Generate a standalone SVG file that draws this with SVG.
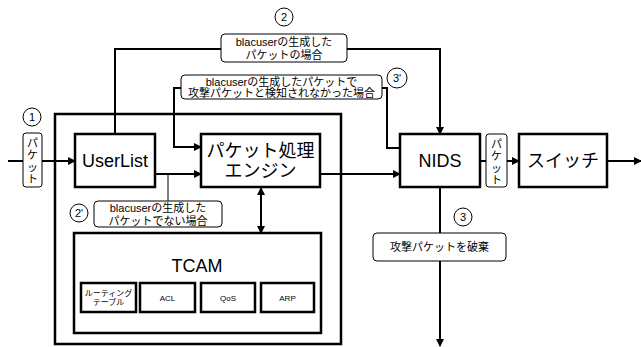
<svg xmlns="http://www.w3.org/2000/svg" width="641" height="347" viewBox="0 0 641 347">
<style>
text{font-family:"Liberation Sans","Noto Sans CJK JP",sans-serif;fill:#000}
.box{fill:#fff;stroke:#000;stroke-width:2.5}
.lbl{fill:#fff;stroke:#000;stroke-width:1}
.ln{fill:none;stroke:#000;stroke-width:2}
.thin{fill:none;stroke:#000;stroke-width:1}
.big{font-size:18px;text-anchor:middle}
.s{font-size:11px;text-anchor:middle}
.xs{font-size:8px;text-anchor:middle}
.cir{fill:#fff;stroke:#000;stroke-width:1}
</style>
<defs>
<marker id="ah" markerWidth="8" markerHeight="8" refX="7" refY="4" orient="auto" markerUnits="userSpaceOnUse">
<path d="M0,0 L8,4 L0,8 Z" fill="#000"/>
</marker>
<marker id="ahs" markerWidth="8" markerHeight="8" refX="1" refY="4" orient="auto" markerUnits="userSpaceOnUse">
<path d="M8,0 L0,4 L8,8 Z" fill="#000"/>
</marker>
</defs>
<rect x="0" y="0" width="641" height="347" fill="#fff"/>

<g id="container">
<rect class="box" x="55" y="114" width="286" height="230"/>
</g>

<g id="connectors">
<path class="ln" d="M8,161 H23"/>
<path class="ln" d="M42,161 H75" marker-end="url(#ah)"/>
<path class="ln" d="M115,134 V49 H440 V134" marker-end="url(#ah)"/>
<path class="ln" d="M155,174 H201" marker-end="url(#ah)"/>
<path class="thin" d="M168,174 V201"/>
<path class="ln" d="M400,148 H387 V88 H174 V147 H201" marker-end="url(#ah)"/>
<path class="ln" d="M320,174 H400" marker-end="url(#ah)"/>
<path class="ln" d="M261,188 V233" marker-start="url(#ahs)" marker-end="url(#ah)"/>
<path class="ln" d="M480,161 H486"/>
<path class="ln" d="M507,161 H519" marker-end="url(#ah)"/>
<path class="ln" d="M607,161 H641" marker-end="url(#ah)"/>
<path class="ln" d="M440,187 V346" marker-end="url(#ah)"/>
</g>

<g id="userlist">
<rect class="box" x="75" y="134" width="80" height="53"/>
<text class="big" x="115" y="167">UserList</text>
</g>

<g id="engine">
<rect class="box" x="201" y="134" width="119" height="53"/>
<text class="big" x="260.5" y="157">パケット処理</text>
<text class="big" x="260.5" y="177">エンジン</text>
</g>

<g id="nids">
<rect class="box" x="400" y="134" width="80" height="53"/>
<text class="big" x="440" y="167">NIDS</text>
</g>

<g id="switch">
<rect class="box" x="519" y="134" width="88" height="53"/>
<text class="big" x="563" y="167">スイッチ</text>
</g>

<g id="tcam">
<rect class="box" x="74" y="233" width="247" height="100"/>
<text class="big" x="197" y="272">TCAM</text>
<rect class="box" x="81" y="283" width="55" height="29"/>
<text class="xs" x="108.5" y="296">ルーティング</text>
<text class="xs" x="108.5" y="305">テーブル</text>
<rect class="box" x="140" y="283" width="55" height="29"/>
<text class="xs" x="167.5" y="301">ACL</text>
<rect class="box" x="201" y="283" width="54" height="29"/>
<text class="xs" x="228" y="301">QoS</text>
<rect class="box" x="261" y="283" width="53" height="29"/>
<text class="xs" x="287.5" y="301">ARP</text>
</g>

<g id="label-packet-in">
<rect class="lbl" x="23" y="133" width="19" height="54" rx="3"/>
<text class="s" x="32.5" y="147">パ</text>
<text class="s" x="32.5" y="159">ケ</text>
<text class="s" x="32.5" y="171">ッ</text>
<text class="s" x="32.5" y="183">ト</text>
</g>

<g id="label-packet-out">
<rect class="lbl" x="486" y="134" width="21" height="53" rx="3"/>
<text class="s" x="496.5" y="148">パ</text>
<text class="s" x="496.5" y="160">ケ</text>
<text class="s" x="496.5" y="172">ッ</text>
<text class="s" x="496.5" y="184">ト</text>
</g>

<g id="label-2">
<rect class="lbl" x="221" y="34" width="126" height="28" rx="4"/>
<text class="s" x="284" y="46">blacuserの生成した</text>
<text class="s" x="284" y="59">パケットの場合</text>
</g>

<g id="label-3p">
<rect class="lbl" x="181" y="75" width="201" height="24" rx="4"/>
<text class="s" x="281.5" y="86">blacuserの生成したパケットで</text>
<text class="s" x="281.5" y="97">攻撃パケットと検知されなかった場合</text>
</g>

<g id="label-2p">
<rect class="lbl" x="94" y="201" width="128" height="26" rx="4"/>
<text class="s" x="158" y="212">blacuserの生成した</text>
<text class="s" x="158" y="225">パケットでない場合</text>
</g>

<g id="label-3">
<rect class="lbl" x="373" y="233" width="133" height="28" rx="4"/>
<text class="s" x="439.5" y="251">攻撃パケットを破棄</text>
</g>

<g id="num-1"><circle class="cir" cx="32" cy="117" r="9"/><text class="s" x="32" y="121">1</text></g>
<g id="num-2"><circle class="cir" cx="284" cy="17" r="9"/><text class="s" x="284" y="21">2</text></g>
<g id="num-2p"><circle class="cir" cx="79" cy="213" r="9"/><text class="s" x="79" y="217">2'</text></g>
<g id="num-3"><circle class="cir" cx="463" cy="217" r="9"/><text class="s" x="463" y="221">3</text></g>
<g id="num-3p"><circle class="cir" cx="397" cy="78" r="10"/><text class="s" x="397" y="82">3'</text></g>
</svg>
